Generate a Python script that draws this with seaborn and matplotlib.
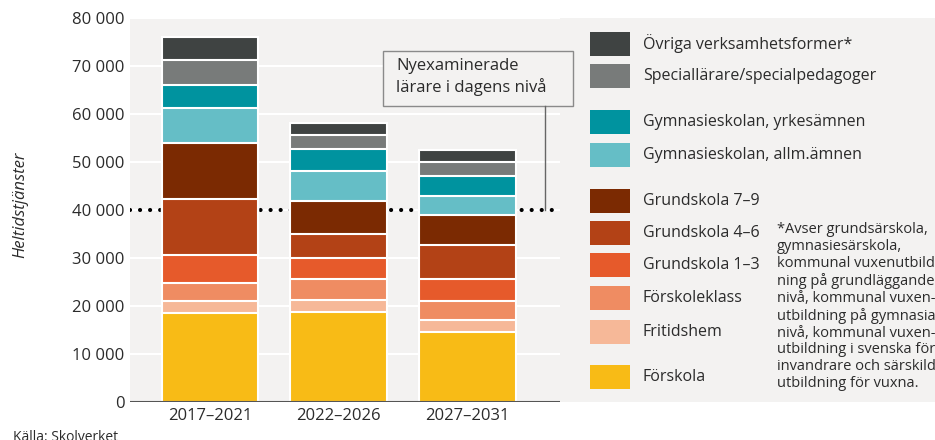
import matplotlib
matplotlib.use("Agg")
import matplotlib.pyplot as plt
from matplotlib.patches import Rectangle
from matplotlib.lines import Line2D
from matplotlib.ticker import FuncFormatter
import numpy as np
import seaborn as sns

# data (heltidstjänster per period)
periods = ['2017–2021', '2022–2026', '2027–2031']
categories = ['Förskola', 'Fritidshem', 'Förskoleklass', 'Grundskola 1–3', 'Grundskola 4–6',
              'Grundskola 7–9', 'Gymnasieskolan, allm.ämnen', 'Gymnasieskolan, yrkesämnen',
              'Speciallärare/specialpedagoger', 'Övriga verksamhetsformer*']
forskola = [18500, 18750, 14650]
fritidshem = [2500, 2500, 2450]
forskoleklass = [3800, 4300, 3900]
grundskola_1_3 = [5800, 4500, 4650]
grundskola_4_6 = [11700, 4900, 7100]
grundskola_7_9 = [11700, 7000, 6250]
gymn_allm = [7300, 6200, 3950]
gymn_yrke = [4800, 4500, 4150]
speciallarare = [5100, 3000, 2850]
ovriga = [4800, 2450, 2550]
nyexaminerade = 40000

colors = ['#f8bb16', '#f6b898', '#ef8c62', '#e65a2b', '#b34216',
          '#7b2a02', '#65bec6', '#00939f', '#787b7a', '#3f4342']
bg = '#f3f2f1'
txt = '#2b2b2b'

series = [forskola, fritidshem, forskoleklass, grundskola_1_3, grundskola_4_6,
          grundskola_7_9, gymn_allm, gymn_yrke, speciallarare, ovriga]
cum = np.cumsum(np.array(series), axis=0)

plt.rcParams['font.family'] = ['Open Sans', 'DejaVu Sans']
W, H = 935, 440
fig = plt.figure(figsize=(W / 100, H / 100), dpi=100)


def fx(px):
    return px / W


def fy(py):
    return 1 - py / H


# grey panel behind plot and legend
fig.add_artist(Rectangle((fx(130), fy(402)), 1 - fx(130), fy(18) - fy(402),
                         transform=fig.transFigure, facecolor=bg, edgecolor='none', zorder=-1))

ax = fig.add_axes([fx(130), fy(402), fx(560) - fx(130), fy(18) - fy(402)])
ax.set_facecolor(bg)

# stacked bars: draw cumulative totals from the top down
for i in range(len(series) - 1, -1, -1):
    sns.barplot(x=periods, y=cum[i], color=colors[i], saturation=1, width=0.75,
                edgecolor='white', linewidth=1.5, errorbar=None, ax=ax, zorder=3)

ax.plot([-0.62, 2.72], [nyexaminerade, nyexaminerade], color='black', lw=3,
        linestyle=(0, (0.01, 2.4)), dash_capstyle='round', zorder=2)
ax.axhline(0, color='#555555', lw=1.5, zorder=5)

ax.set_xlim(-0.621, 2.718)
ax.set_ylim(0, 80000)
ax.set_yticks(np.arange(0, 80001, 10000))
ax.yaxis.set_major_formatter(FuncFormatter(lambda v, p: f'{int(v):,}'.replace(',', ' ')))
ax.yaxis.grid(True, color='white', lw=1.5)
ax.set_axisbelow(True)
for s in ax.spines.values():
    s.set_visible(False)
ax.tick_params(axis='both', length=0, labelsize=12, colors=txt)
ax.tick_params(axis='y', pad=4)
ax.tick_params(axis='x', pad=4)
ax.set_xlabel('')
ax.set_ylabel('')

fig.text(fx(20), fy(205), 'Heltidstjänster', rotation=90, style='italic', fontsize=12,
         color=txt, ha='center', va='center')
fig.text(fx(13), fy(430), 'Källa: Skolverket', fontsize=10, color=txt, ha='left', va='top')

# annotation box for the dotted line
fig.add_artist(Rectangle((fx(383), fy(106)), fx(573) - fx(383), fy(51) - fy(106),
                         transform=fig.transFigure, facecolor=bg, edgecolor='#8a8a8a', lw=1, zorder=4))
fig.add_artist(Line2D([fx(545), fx(545)], [fy(106), fy(210)], transform=fig.transFigure,
                      color='#666666', lw=1, zorder=4))
fig.text(fx(396), fy(77), 'Nyexaminerade\nlärare i dagens nivå', fontsize=12, color=txt,
         ha='left', va='center', linespacing=1.25, zorder=5)

# legend, top to bottom with gaps between groups
rows = [44, 76, 122, 155, 201, 233, 265, 298, 332, 377]
for row, i in zip(rows, range(len(categories) - 1, -1, -1)):
    fig.add_artist(Rectangle((fx(590), fy(row + 12)), fx(40), 24 / H, transform=fig.transFigure,
                             facecolor=colors[i], edgecolor='none', zorder=4))
    fig.text(fx(643), fy(row), categories[i], fontsize=11.5, color=txt, ha='left', va='center')

fig.text(fx(777), fy(222),
         '*Avser grundsärskola,\ngymnasiesärskola,\nkommunal vuxenutbild-\nning på grundläggande\n'
         'nivå, kommunal vuxen-\nutbildning på gymnasial\nnivå, kommunal vuxen-\n'
         'utbildning i svenska för\ninvandrare och särskild\nutbildning för vuxna.',
         fontsize=10.5, color=txt, ha='left', va='top', linespacing=1.17)

fig.savefig('out.png', dpi=100)
